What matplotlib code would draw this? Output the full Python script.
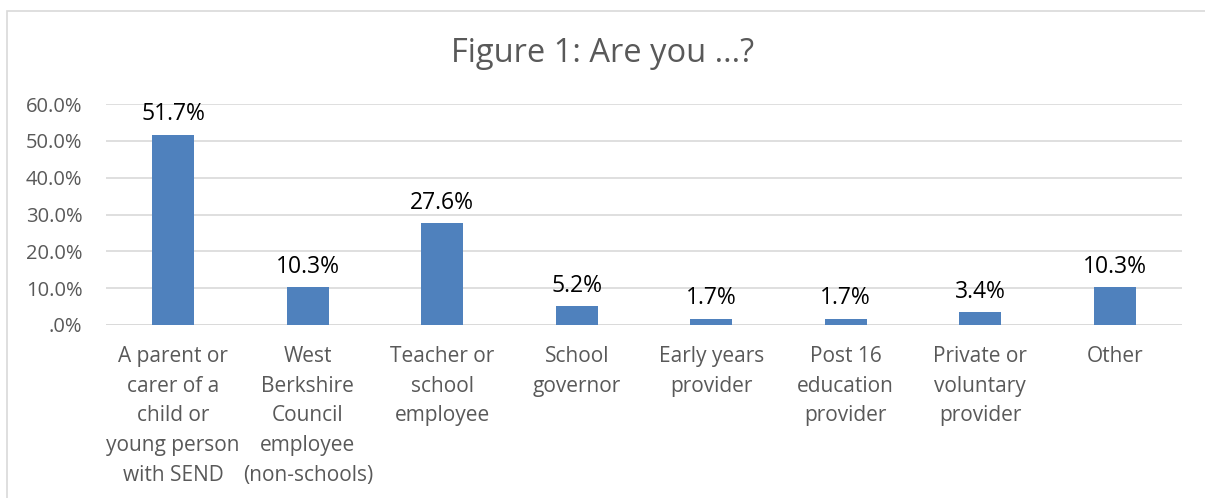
import matplotlib.pyplot as plt
from matplotlib.patches import Rectangle

categories = [
    "A parent or\ncarer of a\nchild or\nyoung person\nwith SEND",
    "West\nBerkshire\nCouncil\nemployee\n(non-schools)",
    "Teacher or\nschool\nemployee",
    "School\ngovernor",
    "Early years\nprovider",
    "Post 16\neducation\nprovider",
    "Private or\nvoluntary\nprovider",
    "Other",
]
values = [51.7, 10.3, 27.6, 5.2, 1.7, 1.7, 3.4, 10.3]
yticks = [0, 10, 20, 30, 40, 50, 60]
ytick_labels = [".0%", "10.0%", "20.0%", "30.0%", "40.0%", "50.0%", "60.0%"]

plt.rcParams['font.family'] = ['Open Sans', 'DejaVu Sans']

W, H = 1205, 498
fig = plt.figure(figsize=(W / 100, H / 100), dpi=100)
fig.patches.append(Rectangle((7 / W, -0.1), 1.2, 1 - 11 / H + 0.1,
                             transform=fig.transFigure, fill=False,
                             edgecolor='#d9d9d9', linewidth=1.2))

ax = fig.add_axes([106 / W, 1 - 325 / H, (1182 - 106) / W, (325 - 104) / H])
x = range(len(categories))
ax.bar(x, values, width=0.31, color='#4f81bd', zorder=3)
for xi, v in zip(x, values):
    ax.annotate(f"{v:.1f}%", (xi, v), xytext=(0, 6), textcoords='offset points',
                ha='center', va='bottom', fontsize=16.5, color='black')

ax.set_xlim(-0.5, len(categories) - 0.5)
ax.set_ylim(0, 60)
ax.set_yticks(yticks)
ax.set_yticklabels(ytick_labels, fontsize=14.5, color='#595959')
ax.set_xticks(list(x))
ax.set_xticklabels(categories, fontsize=15, color='#595959', linespacing=1.55)
ax.tick_params(axis='both', length=0)
ax.tick_params(axis='x', pad=15)
ax.tick_params(axis='y', pad=17)
for lbl in ax.get_yticklabels():
    lbl.set_horizontalalignment('right')
ax.grid(axis='y', color='#d9d9d9', linewidth=1.2, zorder=0)
for s in ax.spines.values():
    s.set_visible(False)
ax.axhline(0, color='#d9d9d9', linewidth=1.2, zorder=2)

fig.text(0.5, 1 - 53 / H, "Figure 1: Are you ...?", ha='center', va='center',
         fontsize=23.5, color='#595959')

fig.savefig("out.png", dpi=100)
